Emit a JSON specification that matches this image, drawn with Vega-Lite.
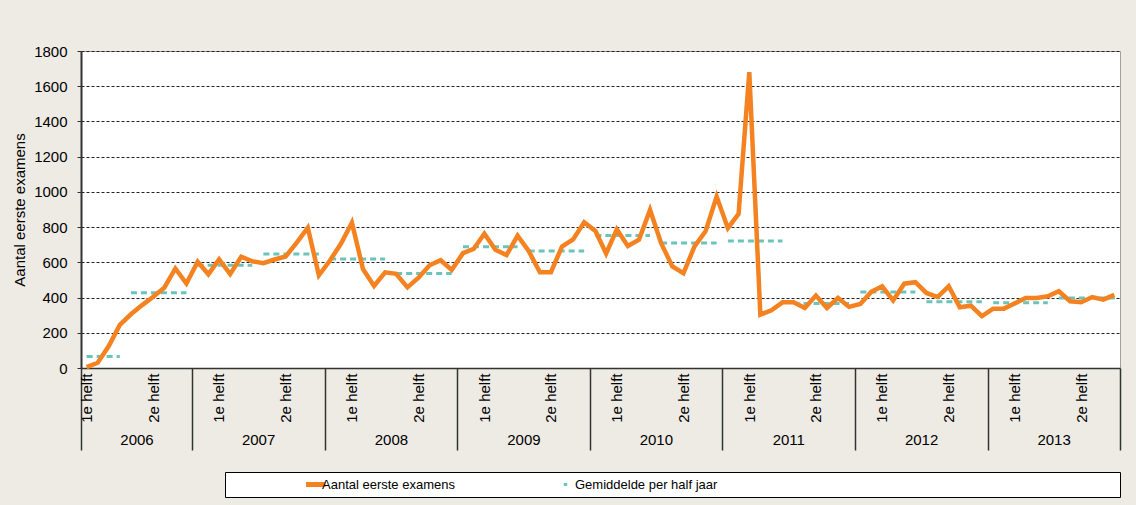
{
  "$schema": "https://vega.github.io/schema/vega-lite/v6.json",
  "width": 1039,
  "height": 317,
  "autosize": {"type": "none"},
  "padding": {"left": 81, "top": 51, "right": 16, "bottom": 137},
  "background": "#EEEBE5",
  "config": {
    "font": "Liberation Sans",
    "view": {"fill": "white", "stroke": "#A0A0A0"},
    "axis": {"labelFont": "Liberation Sans", "labelColor": "#000", "titleColor": "#000", "titleFont": "Liberation Sans"},
    "legend": {"labelFont": "Liberation Sans", "titleFont": "Liberation Sans"}
  },
  "datasets": {
    "examens": [
      {"maand": "2006-03", "aantal": 5}, {"maand": "2006-04", "aantal": 30}, {"maand": "2006-05", "aantal": 125},
      {"maand": "2006-06", "aantal": 245}, {"maand": "2006-07", "aantal": 305}, {"maand": "2006-08", "aantal": 357},
      {"maand": "2006-09", "aantal": 404}, {"maand": "2006-10", "aantal": 456}, {"maand": "2006-11", "aantal": 565},
      {"maand": "2006-12", "aantal": 480},
      {"maand": "2007-01", "aantal": 603}, {"maand": "2007-02", "aantal": 532}, {"maand": "2007-03", "aantal": 617},
      {"maand": "2007-04", "aantal": 533}, {"maand": "2007-05", "aantal": 632}, {"maand": "2007-06", "aantal": 606},
      {"maand": "2007-07", "aantal": 595}, {"maand": "2007-08", "aantal": 616}, {"maand": "2007-09", "aantal": 633},
      {"maand": "2007-10", "aantal": 712}, {"maand": "2007-11", "aantal": 797}, {"maand": "2007-12", "aantal": 526},
      {"maand": "2008-01", "aantal": 612}, {"maand": "2008-02", "aantal": 707}, {"maand": "2008-03", "aantal": 825},
      {"maand": "2008-04", "aantal": 562}, {"maand": "2008-05", "aantal": 466}, {"maand": "2008-06", "aantal": 543},
      {"maand": "2008-07", "aantal": 535}, {"maand": "2008-08", "aantal": 458}, {"maand": "2008-09", "aantal": 513},
      {"maand": "2008-10", "aantal": 583}, {"maand": "2008-11", "aantal": 612}, {"maand": "2008-12", "aantal": 557},
      {"maand": "2009-01", "aantal": 652}, {"maand": "2009-02", "aantal": 676}, {"maand": "2009-03", "aantal": 762},
      {"maand": "2009-04", "aantal": 671}, {"maand": "2009-05", "aantal": 641}, {"maand": "2009-06", "aantal": 752},
      {"maand": "2009-07", "aantal": 665}, {"maand": "2009-08", "aantal": 544}, {"maand": "2009-09", "aantal": 544},
      {"maand": "2009-10", "aantal": 690}, {"maand": "2009-11", "aantal": 730}, {"maand": "2009-12", "aantal": 828},
      {"maand": "2010-01", "aantal": 778}, {"maand": "2010-02", "aantal": 650}, {"maand": "2010-03", "aantal": 787},
      {"maand": "2010-04", "aantal": 693}, {"maand": "2010-05", "aantal": 728}, {"maand": "2010-06", "aantal": 898},
      {"maand": "2010-07", "aantal": 709}, {"maand": "2010-08", "aantal": 577}, {"maand": "2010-09", "aantal": 538},
      {"maand": "2010-10", "aantal": 690}, {"maand": "2010-11", "aantal": 776}, {"maand": "2010-12", "aantal": 974},
      {"maand": "2011-01", "aantal": 794}, {"maand": "2011-02", "aantal": 875}, {"maand": "2011-03", "aantal": 1680},
      {"maand": "2011-04", "aantal": 303}, {"maand": "2011-05", "aantal": 328}, {"maand": "2011-06", "aantal": 373},
      {"maand": "2011-07", "aantal": 373}, {"maand": "2011-08", "aantal": 341}, {"maand": "2011-09", "aantal": 411},
      {"maand": "2011-10", "aantal": 341}, {"maand": "2011-11", "aantal": 398}, {"maand": "2011-12", "aantal": 347},
      {"maand": "2012-01", "aantal": 364}, {"maand": "2012-02", "aantal": 432}, {"maand": "2012-03", "aantal": 464},
      {"maand": "2012-04", "aantal": 384}, {"maand": "2012-05", "aantal": 479}, {"maand": "2012-06", "aantal": 487},
      {"maand": "2012-07", "aantal": 426}, {"maand": "2012-08", "aantal": 403}, {"maand": "2012-09", "aantal": 464},
      {"maand": "2012-10", "aantal": 345}, {"maand": "2012-11", "aantal": 354}, {"maand": "2012-12", "aantal": 294},
      {"maand": "2013-01", "aantal": 337}, {"maand": "2013-02", "aantal": 337}, {"maand": "2013-03", "aantal": 366},
      {"maand": "2013-04", "aantal": 398}, {"maand": "2013-05", "aantal": 398}, {"maand": "2013-06", "aantal": 407},
      {"maand": "2013-07", "aantal": 436}, {"maand": "2013-08", "aantal": 379}, {"maand": "2013-09", "aantal": 373},
      {"maand": "2013-10", "aantal": 403}, {"maand": "2013-11", "aantal": 388}, {"maand": "2013-12", "aantal": 415}
    ],
    "gemiddelden": [
      {"maand": "2006-03", "gemiddelde": 65, "periode": "2006-1"}, {"maand": "2006-06", "gemiddelde": 65, "periode": "2006-1"},
      {"maand": "2006-07", "gemiddelde": 427, "periode": "2006-2"}, {"maand": "2006-12", "gemiddelde": 427, "periode": "2006-2"},
      {"maand": "2007-01", "gemiddelde": 584, "periode": "2007-1"}, {"maand": "2007-06", "gemiddelde": 584, "periode": "2007-1"},
      {"maand": "2007-07", "gemiddelde": 647, "periode": "2007-2"}, {"maand": "2007-12", "gemiddelde": 647, "periode": "2007-2"},
      {"maand": "2008-01", "gemiddelde": 619, "periode": "2008-1"}, {"maand": "2008-06", "gemiddelde": 619, "periode": "2008-1"},
      {"maand": "2008-07", "gemiddelde": 536, "periode": "2008-2"}, {"maand": "2008-12", "gemiddelde": 536, "periode": "2008-2"},
      {"maand": "2009-01", "gemiddelde": 689, "periode": "2009-1"}, {"maand": "2009-06", "gemiddelde": 689, "periode": "2009-1"},
      {"maand": "2009-07", "gemiddelde": 664, "periode": "2009-2"}, {"maand": "2009-12", "gemiddelde": 664, "periode": "2009-2"},
      {"maand": "2010-01", "gemiddelde": 753, "periode": "2010-1"}, {"maand": "2010-06", "gemiddelde": 753, "periode": "2010-1"},
      {"maand": "2010-07", "gemiddelde": 710, "periode": "2010-2"}, {"maand": "2010-12", "gemiddelde": 710, "periode": "2010-2"},
      {"maand": "2011-01", "gemiddelde": 721, "periode": "2011-1"}, {"maand": "2011-06", "gemiddelde": 721, "periode": "2011-1"},
      {"maand": "2011-07", "gemiddelde": 366, "periode": "2011-2"}, {"maand": "2011-12", "gemiddelde": 366, "periode": "2011-2"},
      {"maand": "2012-01", "gemiddelde": 431, "periode": "2012-1"}, {"maand": "2012-06", "gemiddelde": 431, "periode": "2012-1"},
      {"maand": "2012-07", "gemiddelde": 376, "periode": "2012-2"}, {"maand": "2012-12", "gemiddelde": 376, "periode": "2012-2"},
      {"maand": "2013-01", "gemiddelde": 370, "periode": "2013-1"}, {"maand": "2013-06", "gemiddelde": 370, "periode": "2013-1"},
      {"maand": "2013-07", "gemiddelde": 397, "periode": "2013-2"}, {"maand": "2013-12", "gemiddelde": 397, "periode": "2013-2"}
    ]
  },
  "layer": [
    {
      "data": {"name": "gemiddelden"},
      "mark": {"type": "line", "strokeWidth": 3, "strokeDash": [6, 4]},
      "encoding": {
        "x": {
          "field": "maand", "type": "temporal", "timeUnit": "utcyearmonth", "bandPosition": 0.5,
          "scale": {"domain": [{"year": 2006, "month": 3, "date": 1, "utc": true}, {"year": 2014, "month": 1, "date": 1, "utc": true}], "nice": false},
          "axis": {
            "orient": "bottom", "title": null, "labels": false, "grid": false, "domain": false,
            "ticks": true, "tickSize": 82, "tickColor": "#333", "tickWidth": 1.5,
            "values": [
              {"year": 2006, "month": 3, "date": 1, "utc": true}, {"year": 2007, "month": 1, "date": 1, "utc": true},
              {"year": 2008, "month": 1, "date": 1, "utc": true}, {"year": 2009, "month": 1, "date": 1, "utc": true},
              {"year": 2010, "month": 1, "date": 1, "utc": true}, {"year": 2011, "month": 1, "date": 1, "utc": true},
              {"year": 2012, "month": 1, "date": 1, "utc": true}, {"year": 2013, "month": 1, "date": 1, "utc": true},
              {"year": 2014, "month": 1, "date": 1, "utc": true}
            ]
          }
        },
        "y": {
          "field": "gemiddelde", "type": "quantitative",
          "scale": {"domain": [0, 1800], "nice": false},
          "axis": {
            "title": "Aantal eerste examens", "values": [0, 200, 400, 600, 800, 1000, 1200, 1400, 1600, 1800], "format": "d",
            "grid": true, "gridColor": "#222", "gridDash": [3, 2], "gridWidth": 1,
            "domainColor": "#333", "domainWidth": 2, "tickColor": "#333", "tickSize": 4,
            "labelFontSize": 15, "labelPadding": 10, "titleFontSize": 15, "titleFontWeight": "normal", "titlePadding": 6
          }
        },
        "detail": {"field": "periode"},
        "color": {
          "datum": "Gemiddelde per half jaar",
          "scale": {"domain": ["Aantal eerste examens", "Gemiddelde per half jaar"], "range": ["#F58220", "#6BC4BC"]},
          "legend": {
            "orient": "none", "legendX": 144, "legendY": 421, "direction": "horizontal",
            "title": "\u200b\u00a0\u00a0\u00a0\u00a0\u00a0\u00a0\u00a0\u00a0\u00a0\u00a0\u00a0\u00a0\u00a0\u00a0\u00a0\u00a0\u00a0\u00a0\u00a0\u00a0\u00a0\u200b",
            "titleOrient": "left", "titleFontSize": 12, "titlePadding": 5,
            "padding": 5, "fillColor": "white", "strokeColor": "#000",
            "labelFontSize": 13, "labelColor": "#000", "labelLimit": 2000, "labelOffset": 3,
            "symbolType": "stroke", "symbolSize": 676, "symbolStrokeWidth": 5, "clipHeight": 15,
            "columnPadding": 104,
            "labelExpr": "datum.label === 'Gemiddelde per half jaar' ? pad(datum.label, 134, '\u00a0') + '\u200b' : datum.label",
            "encode": {"symbols": {"update": {
              "size": {"signal": "datum.value === 'Aantal eerste examens' ? 676 : 12"},
              "strokeWidth": {"signal": "datum.value === 'Aantal eerste examens' ? 5 : 3"},
              "strokeDash": {"value": []}
            }}}
          }
        }
      }
    },
    {
      "data": {"name": "examens"},
      "mark": {"type": "line", "strokeWidth": 4.5, "strokeJoin": "miter"},
      "encoding": {
        "x": {
          "field": "maand", "type": "temporal", "timeUnit": "utcyearmonth", "bandPosition": 0.5,
          "axis": {
            "orient": "bottom", "title": null, "grid": false, "ticks": false, "tickSize": 0,
            "domain": true, "domainColor": "#333", "domainWidth": 1.5,
            "labelExpr": "utcmonth(datum.value) < 6 ? '1e helft' : '2e helft'",
            "labelAngle": -90, "labelFontSize": 15, "labelPadding": 5, "labelFlush": false, "labelOverlap": false,
            "values": [
              {"year": 2006, "month": 3, "date": 16, "utc": true}, {"year": 2006, "month": 9, "date": 16, "utc": true},
              {"year": 2007, "month": 3, "date": 16, "utc": true}, {"year": 2007, "month": 9, "date": 16, "utc": true},
              {"year": 2008, "month": 3, "date": 16, "utc": true}, {"year": 2008, "month": 9, "date": 16, "utc": true},
              {"year": 2009, "month": 3, "date": 16, "utc": true}, {"year": 2009, "month": 9, "date": 16, "utc": true},
              {"year": 2010, "month": 3, "date": 16, "utc": true}, {"year": 2010, "month": 9, "date": 16, "utc": true},
              {"year": 2011, "month": 3, "date": 16, "utc": true}, {"year": 2011, "month": 9, "date": 16, "utc": true},
              {"year": 2012, "month": 3, "date": 16, "utc": true}, {"year": 2012, "month": 9, "date": 16, "utc": true},
              {"year": 2013, "month": 3, "date": 16, "utc": true}, {"year": 2013, "month": 9, "date": 16, "utc": true}
            ]
          }
        },
        "y": {
          "field": "aantal", "type": "quantitative",
          "axis": {
            "title": "Aantal eerste examens", "values": [0, 200, 400, 600, 800, 1000, 1200, 1400, 1600, 1800], "format": "d",
            "grid": true, "gridColor": "#222", "gridDash": [3, 2], "gridWidth": 1,
            "domainColor": "#333", "domainWidth": 2, "tickColor": "#333", "tickSize": 4,
            "labelFontSize": 15, "labelPadding": 10, "titleFontSize": 15, "titleFontWeight": "normal", "titlePadding": 6
          }
        },
        "color": {
          "datum": "Aantal eerste examens",
          "legend": {
            "orient": "none", "legendX": 144, "legendY": 421, "direction": "horizontal",
            "title": "\u200b\u00a0\u00a0\u00a0\u00a0\u00a0\u00a0\u00a0\u00a0\u00a0\u00a0\u00a0\u00a0\u00a0\u00a0\u00a0\u00a0\u00a0\u00a0\u00a0\u00a0\u00a0\u200b",
            "titleOrient": "left", "titleFontSize": 12, "titlePadding": 5,
            "padding": 5, "fillColor": "white", "strokeColor": "#000",
            "labelFontSize": 13, "labelColor": "#000", "labelLimit": 2000, "labelOffset": 3,
            "symbolType": "stroke", "symbolSize": 676, "symbolStrokeWidth": 5, "clipHeight": 15,
            "columnPadding": 104,
            "labelExpr": "datum.label === 'Gemiddelde per half jaar' ? pad(datum.label, 134, '\u00a0') + '\u200b' : datum.label",
            "encode": {"symbols": {"update": {
              "size": {"signal": "datum.value === 'Aantal eerste examens' ? 676 : 12"},
              "strokeWidth": {"signal": "datum.value === 'Aantal eerste examens' ? 5 : 3"},
              "strokeDash": {"value": []}
            }}}
          }
        }
      }
    },
    {
      "data": {"name": "examens"},
      "mark": {"type": "point", "opacity": 0, "size": 1},
      "encoding": {
        "x": {
          "field": "maand", "type": "temporal", "timeUnit": "utcyearmonth", "bandPosition": 0.5,
          "axis": {
            "orient": "bottom", "title": null, "grid": false, "ticks": false, "tickSize": 0, "domain": false,
            "labelExpr": "utcFormat(datum.value, '%Y')", "labelFontSize": 15, "labelPadding": 64,
            "labelFlush": false, "labelOverlap": false, "labelAngle": 0,
            "values": [
              {"year": 2006, "month": 8, "date": 1, "utc": true}, {"year": 2007, "month": 7, "date": 2, "utc": true},
              {"year": 2008, "month": 7, "date": 2, "utc": true}, {"year": 2009, "month": 7, "date": 2, "utc": true},
              {"year": 2010, "month": 7, "date": 2, "utc": true}, {"year": 2011, "month": 7, "date": 2, "utc": true},
              {"year": 2012, "month": 7, "date": 2, "utc": true}, {"year": 2013, "month": 7, "date": 2, "utc": true}
            ]
          }
        },
        "y": {
          "field": "aantal", "type": "quantitative",
          "axis": {
            "title": "Aantal eerste examens", "values": [0, 200, 400, 600, 800, 1000, 1200, 1400, 1600, 1800], "format": "d",
            "grid": true, "gridColor": "#222", "gridDash": [3, 2], "gridWidth": 1,
            "domainColor": "#333", "domainWidth": 2, "tickColor": "#333", "tickSize": 4,
            "labelFontSize": 15, "labelPadding": 10, "titleFontSize": 15, "titleFontWeight": "normal", "titlePadding": 6
          }
        }
      }
    }
  ],
  "resolve": {"axis": {"x": "independent"}}
}
